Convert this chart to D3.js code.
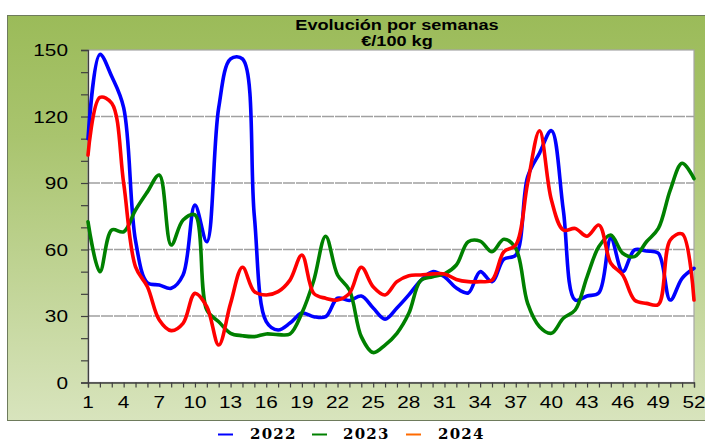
<!DOCTYPE html>
<html>
<head>
<meta charset="utf-8">
<script src="https://cdn.jsdelivr.net/npm/d3@7"></script>
<style>
  html, body { margin: 0; padding: 0; background: #ffffff; }
  svg { display: block; }
</style>
</head>
<body>
<div id="chart"></div>
<script>
// Weekly prices, €/100 kg
const weeks = d3.range(1, 53);
const series2022 = [110, 148, 138, 124, 64, 45, 44, 42.5, 48.5, 80,
                    63.5, 124, 146, 146, 75, 27.5, 23.7, 26.8, 31.3, 29.7,
                    29.7, 38, 37, 39, 33.6, 28.6, 33.6, 39.5, 46, 50,
                    47.7, 42.6, 40.4, 50, 45.5, 55.7, 57.5, 92.8, 103.5, 113.6,
                    77.8, 37.2, 39, 40.5, 65, 50, 59.8, 59.3, 58.3, 37.2,
                    47, 51.5];
const series2023 = [72.5, 50, 68.8, 68, 77.8, 86, 93.6, 62, 73.3, 75.6,
                    32.7, 27.4, 22.2, 21.1, 20.7, 21.9, 21.6, 21.9, 31.3, 46,
                    66, 48.5, 41.7, 20.7, 13.5, 16.9, 22.2, 31.2, 46, 47.7,
                    49, 53, 63.5, 63.8, 59, 64.6, 60.5, 35.7, 25.2, 22.2,
                    29, 32.7, 47.7, 61.3, 66.5, 58.3, 56.8, 63.5, 69.5, 86.8,
                    98.9, 92];
const series2024 = [102.6, 128.6, 126, 90, 52.2, 43.2, 28.2, 23.4, 26.7, 40.2,
                    34.2, 16.9, 35.7, 52, 41, 39.5, 41, 46.2, 57.5, 40.2,
                    38, 37.2, 40.2, 52, 43.2, 39.5, 45.5, 48.2, 48.5, 49,
                    49, 46.5, 45.5, 45.5, 46.2, 59, 62, 89.9, 113.6, 82.3,
                    68.8, 69.5, 66, 71, 53.8, 48.5, 37.2, 35.7, 35.2, 64.3,
                    67, 37.2];
const seriesNames = ["2022", "2023", "2024"];
const lineColors = ["#0000ff", "#008000", "#ff0000"];
const legendColors = ["#0000ff", "#008000", "#ff6a00"];
const yTickLabels = [0, 30, 60, 90, 120, 150];
const xTickLabels = d3.range(1, 53, 3);
const titleLines = ["Evolución por semanas", "€/100 kg"];

const W = 705, H = 443;
const plot = { left: 88, right: 694, top: 50, bottom: 382.5 };

const svg = d3.select("#chart").append("svg")
  .attr("width", W).attr("height", H);

// Background gradient of the chart frame
const defs = svg.append("defs");
const grad = defs.append("linearGradient")
  .attr("id", "frameGrad").attr("x1", 0).attr("y1", 0).attr("x2", 0).attr("y2", 1);
grad.append("stop").attr("offset", "0%").attr("stop-color", "#9bbb59");
grad.append("stop").attr("offset", "30%").attr("stop-color", "#a9c46e");
grad.append("stop").attr("offset", "100%").attr("stop-color", "#d8e4bd");

svg.append("rect")
  .attr("x", 7.5).attr("y", 15.5).attr("width", 710).attr("height", 405)
  .attr("fill", "url(#frameGrad)").attr("stroke", "#6e7b5c").attr("stroke-width", 1);

const x = d3.scaleLinear().domain([1, 52]).range([plot.left, plot.right]);
const y = d3.scaleLinear().domain([0, 150]).range([plot.bottom, plot.top]);

// Plot area
svg.append("rect")
  .attr("x", plot.left).attr("y", plot.top)
  .attr("width", plot.right - plot.left).attr("height", plot.bottom - plot.top)
  .attr("fill", "#ffffff").attr("stroke", "#a6a6a6").attr("stroke-width", 1.2);

// Horizontal gridlines
svg.append("g").selectAll("line")
  .data(yTickLabels.filter(v => v > 0 && v < 150))
  .join("line")
  .attr("x1", plot.left).attr("x2", plot.right)
  .attr("y1", d => y(d)).attr("y2", d => y(d))
  .attr("stroke", "#a0a0a0").attr("stroke-width", 1.3)
  .attr("stroke-dasharray", "12 1");

// Horizontally stretched text helper
function stretchedText(parent, tx, ty, str, opts) {
  const g = parent.append("g")
    .attr("transform", `translate(${tx},${ty}) scale(${opts.sx || 1},1)`);
  return g.append("text")
    .attr("x", 0).attr("y", 0)
    .attr("text-anchor", opts.anchor || "middle")
    .attr("font-family", opts.family || "'Liberation Sans', Arial, sans-serif")
    .attr("font-size", opts.size || 16)
    .attr("font-weight", opts.weight || "normal")
    .attr("fill", opts.fill || "#000")
    .text(str);
}

// Y axis with minor ticks every 10
const yAxis = d3.axisLeft(y)
  .tickValues(d3.range(0, 151, 10))
  .tickSize(7)
  .tickFormat("");
const yg = svg.append("g").attr("transform", `translate(${plot.left},0)`).call(yAxis);
yg.select(".domain").attr("stroke", "#404040").attr("stroke-width", 1.3);
yg.selectAll(".tick line").attr("stroke", "#404040").attr("stroke-width", 1.2);

yTickLabels.forEach(v => {
  stretchedText(svg, 68, y(v) + 6, String(v), { anchor: "end", size: 16, sx: 1.3 });
});

// X axis with a tick for every week
const xAxis = d3.axisBottom(x)
  .tickValues(weeks)
  .tickSize(5)
  .tickFormat("");
const xg = svg.append("g").attr("transform", `translate(0,${plot.bottom})`).call(xAxis);
xg.select(".domain").attr("stroke", "#404040").attr("stroke-width", 1.3);
xg.selectAll(".tick line").attr("stroke", "#404040").attr("stroke-width", 1.2);

xTickLabels.forEach(w => {
  stretchedText(svg, x(w), 407.5, String(w), { anchor: "middle", size: 16, sx: 1.3 });
});

// Title
stretchedText(svg, 397, 30, titleLines[0],
  { anchor: "middle", size: 14.5, sx: 1.25, weight: "bold" });
stretchedText(svg, 397, 46, titleLines[1],
  { anchor: "middle", size: 14.5, sx: 1.25, weight: "bold" });

// Smoothed series lines
const line = d3.line()
  .x((d, i) => x(weeks[i]))
  .y(d => y(d))
  .curve(d3.curveCatmullRom.alpha(0.5));

const allSeries = [series2022, series2023, series2024];
svg.append("g").selectAll("path")
  .data(allSeries)
  .join("path")
  .attr("d", d => line(d))
  .attr("fill", "none")
  .attr("stroke", (d, i) => lineColors[i])
  .attr("stroke-width", 3.6)
  .attr("stroke-linejoin", "round")
  .attr("stroke-linecap", "round");

// Legend
const legendItems = [
  { swatch: 218, text: 250 },
  { swatch: 312, text: 343 },
  { swatch: 406, text: 438 }
];
legendItems.forEach((it, i) => {
  svg.append("line")
    .attr("x1", it.swatch).attr("x2", it.swatch + 15)
    .attr("y1", 434.5).attr("y2", 434.5)
    .attr("stroke", legendColors[i]).attr("stroke-width", 2);
  svg.append("text")
    .attr("x", it.text).attr("y", 439)
    .attr("font-family", "'DejaVu Serif', serif")
    .attr("font-weight", "bold")
    .attr("font-size", 15)
    .attr("letter-spacing", 1.2)
    .attr("fill", "#000")
    .text(seriesNames[i]);
});
</script>
</body>
</html>
